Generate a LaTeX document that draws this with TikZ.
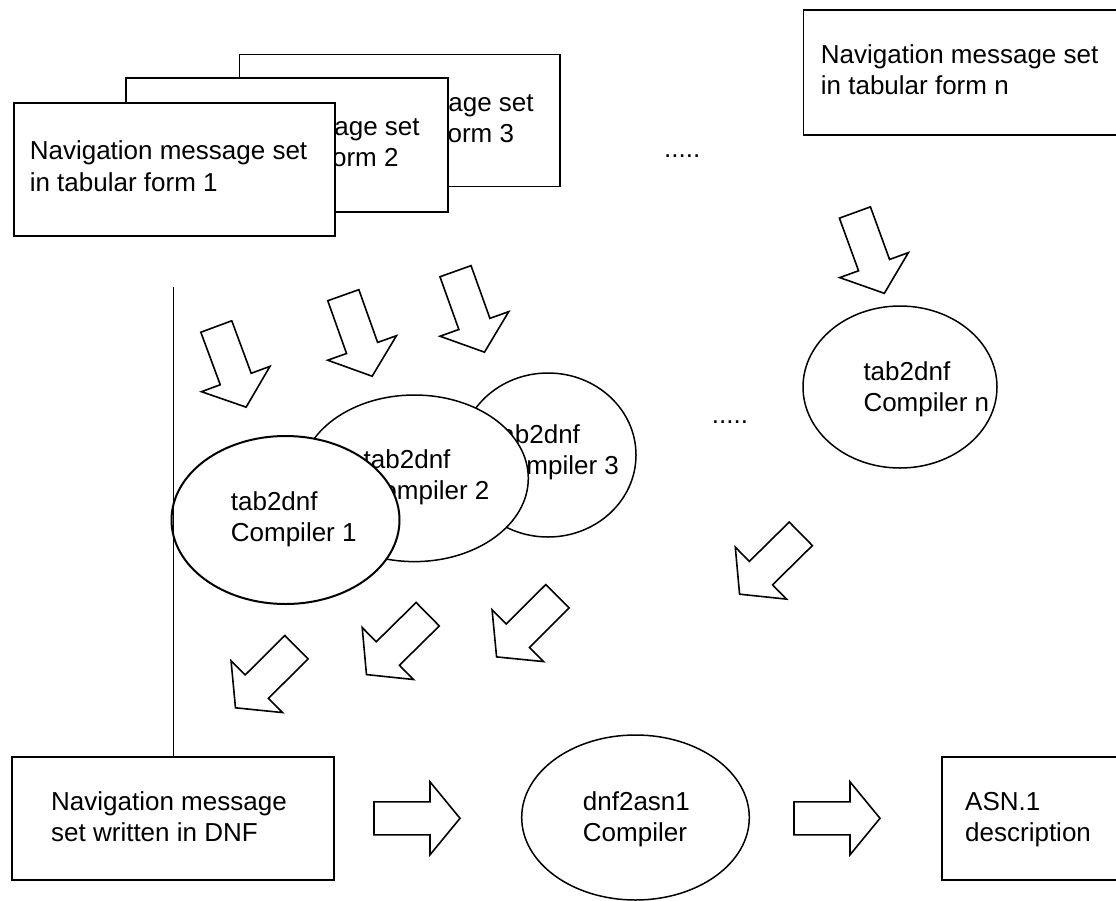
\documentclass[tikz,border=0pt]{standalone}
\usepackage{fontspec}
\setmainfont{Liberation Sans}
\usetikzlibrary{shapes.geometric}
\begin{document}
\begin{tikzpicture}[x=1pt,y=-1pt,
  txt/.style={font=\fontsize{26}{31.7}\selectfont, align=left, anchor=base west, inner sep=0pt},
  boxa/.style={draw, fill=white, line width=1.5pt, anchor=north west, inner sep=0pt},
  boxb/.style={boxa, line width=2pt},
  ell/.style={draw, fill=white, ellipse, line width=1.5pt, inner sep=0pt},
  ellb/.style={ell, line width=2pt},
  barrow/.pic={\draw[line width=1.6pt, fill=white] (0,-16.5) -- (56,-16.5) -- (56,-36.5) -- (86,0) -- (56,36.5) -- (56,16.5) -- (0,16.5) -- cycle;},
  rule/.style={line width=1pt}
]
\useasboundingbox (0,0) rectangle (1116,900);
\clip (0,0) rectangle (1116,900);

% stacked tabular-form boxes (anchor = baseline of the last line)
\node[boxa, minimum width=320.4pt, minimum height=132pt] (b3) at (238.6,53.6) {};
\node[txt] (t3) at (256,142.7) {Navigation message set\\\hspace*{70pt}in tabular form 3};
\node[boxa, minimum width=322pt, minimum height=134pt] (b2) at (125,77) {};
\node[txt] (t2) at (142,166.7) {Navigation message set\\\hspace*{68.5pt}in tabular form 2};
\node[boxb, minimum width=321.5pt, minimum height=133pt] (b1) at (12.5,102) {};
\node[txt] (t1) at (29.6,191.3) {Navigation message set\\in tabular form 1};

\node[boxa, minimum width=340pt, minimum height=124.7pt] (bn) at (802.7,9.3) {};
\node[txt] (tn) at (820.7,94.7) {Navigation message set\\in tabular form n};

\node[txt] (d1) at (664,157) {.....};

% compilers
\node[ell, minimum width=176pt, minimum height=164pt] (e3) at (548,455) {};
\node[txt] (te3) at (493,474.7) {tab2dnf\\Compiler 3};
\node[ell, minimum width=227.8pt, minimum height=166.6pt] (e2) at (414.4,478.3) {};
\node[txt] (te2) at (363.5,499.7) {tab2dnf\\Compiler 2};
\node[ellb, minimum width=228pt, minimum height=168pt] (e1) at (285.5,520) {};
\node[txt] (te1) at (230.7,541.7) {tab2dnf\\Compiler 1};

\node[ell, minimum width=194pt, minimum height=162pt] (en) at (900,387) {};
\node[txt] (ten) at (863.3,411.7) {tab2dnf\\Compiler n};

\node[txt] (d2) at (711.7,423) {.....};

% bottom row
\node[boxb, minimum width=322pt, minimum height=123.3pt] (bd) at (11,755.7) {};
\node[txt] (td) at (51,841.7) {Navigation message\\set written in DNF};
\node[ell, minimum width=227.6pt, minimum height=165pt] (ec) at (635.5,817.5) {};
\node[txt] (tc) at (582.7,841.7) {dnf2asn1\\Compiler};
\node[boxb, minimum width=200pt, minimum height=123.3pt] (ba) at (941,755.7) {};
\node[txt] (ta) at (965,841.7) {ASN.1\\description};

% vertical rule
\coordinate (vtop) at (173,287);
\draw[rule] (vtop) -- (vtop |- bd.north);

% block arrows
\path (216.3,326.5) pic[rotate=-69.7] {barrow};
\path (343.3,295.2) pic[rotate=-70.4] {barrow};
\path (455.5,271.2) pic[rotate=-70.3] {barrow};
\path (854.9,212.5) pic[rotate=-70] {barrow};
\path (800.8,533.8) pic[rotate=-135.4] {barrow};
\path (557.5,596.2) pic[rotate=-135.1] {barrow};
\path (427.7,614.2) pic[rotate=-135.4] {barrow};
\path (296.5,647.2) pic[rotate=-135.2] {barrow};
\path (374,818.3) pic {barrow};
\path (794,818.3) pic {barrow};
\end{tikzpicture}
\end{document}
